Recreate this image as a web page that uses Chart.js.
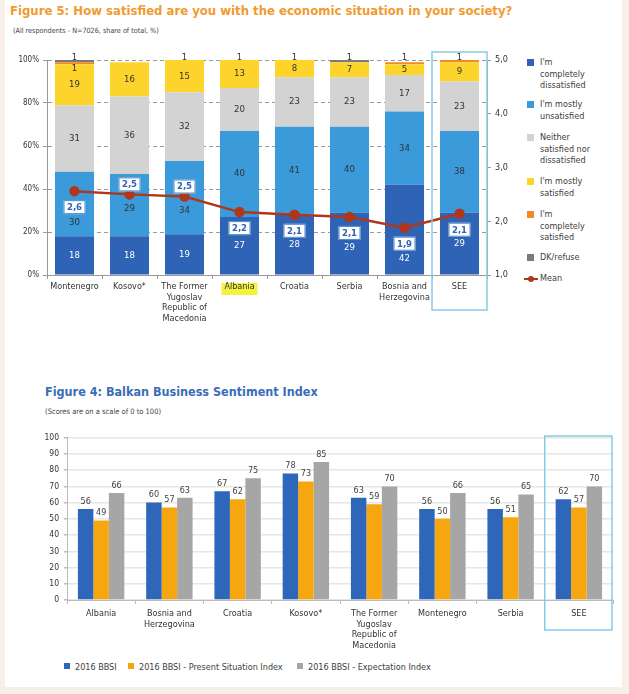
<!DOCTYPE html>
<html>
<head>
<meta charset="utf-8">
<script src="https://cdn.jsdelivr.net/npm/chart.js@4.4.0/dist/chart.umd.min.js"></script>
<style>
  html, body { margin: 0; padding: 0; background: #f9efe6; }
  #panel { position: absolute; left: 5px; top: 0; width: 617px; height: 687px; background: #fff; }
  .txt { position: absolute; font-family: 'DejaVu Sans Condensed', 'DejaVu Sans', sans-serif; white-space: nowrap; }
  canvas { position: absolute; }
  .leg1 { position: absolute; left: 527px; font-family: 'DejaVu Sans Condensed', 'DejaVu Sans', sans-serif; font-size: 9px; line-height: 11.5px; color: #404040; }
  .leg1 .sq { position: absolute; left: 0; top: 2px; width: 7px; height: 7px; }
  .leg1 .lb { position: absolute; left: 13px; top: 0; white-space: nowrap; }
  .leg2 { position: absolute; top: 662px; font-family: 'DejaVu Sans Condensed', 'DejaVu Sans', sans-serif; font-size: 9px; color: #404040; white-space: nowrap; }
  .leg2 .sq { display: inline-block; width: 6px; height: 6px; margin-right: 5px; vertical-align: 1px; }
</style>
</head>
<body>
<div id="panel"></div>
<div class="txt" style="left:10px;top:3px;font-size:13px;font-weight:bold;color:#f29a30;">Figure 5: How satisfied are you with the economic situation in your society?</div>
<div class="txt" style="left:13px;top:26px;font-size:7.2px;color:#444;">(All respondents - N=7026, share of total, %)</div>
<canvas id="grafica-satisfaccion" width="520" height="290" style="left:0;top:45px;width:520px;height:290px;"></canvas>
<div id="leyenda1"></div>

<div class="txt" style="left:45px;top:384px;font-size:12.5px;font-weight:bold;color:#3a6db5;">Figure 4: Balkan Business Sentiment Index</div>
<div class="txt" style="left:45px;top:407px;font-size:7.5px;color:#444;">(Scores are on a scale of 0 to 100)</div>
<canvas id="grafica-bbsi" width="629" height="235" style="left:0;top:425px;width:629px;height:235px;"></canvas>
<div id="leyenda2"></div>

<script>
// ------- datos figura 5 (satisfaccion, % del total)
var paises5 = ['Montenegro', 'Kosovo*', ['The Former', 'Yugoslav', 'Republic of', 'Macedonia'], 'Albania', 'Croatia', 'Serbia', ['Bosnia and', 'Herzegovina'], 'SEE'];
var completamenteInsatisfecho = [18, 18, 19, 27, 28, 29, 42, 29];
var bastanteInsatisfecho = [30, 29, 34, 40, 41, 40, 34, 38];
var niSatisfechoNiInsatisfecho = [31, 36, 32, 20, 23, 23, 17, 23];
var bastanteSatisfecho = [19, 16, 15, 13, 8, 7, 5, 9];
var completamenteSatisfecho = [1, 0, 1, 1, 1, 0, 1, 1];
var noSabe = [1, 0, 0, 0, 0, 1, 0, 0];
var media = [2.56, 2.50, 2.46, 2.17, 2.12, 2.08, 1.88, 2.14];
var ticksPorcentaje = ['0%', '20%', '40%', '60%', '80%', '100%'];
var ticksMedia = ['1,0', '2,0', '3,0', '4,0', '5,0'];

// ------- datos figura 4 (BBSI)
var paises4 = ['Albania', ['Bosnia and', 'Herzegovina'], 'Croatia', 'Kosovo*', ['The Former', 'Yugoslav', 'Republic of', 'Macedonia'], 'Montenegro', 'Serbia', 'SEE'];
var bbsi = [56, 60, 67, 78, 63, 56, 56, 62];
var bbsiSituacionActual = [49, 57, 62, 73, 59, 50, 51, 57];
var bbsiExpectativas = [66, 63, 75, 85, 70, 66, 65, 70];

var fuente = "'DejaVu Sans Condensed', 'DejaVu Sans', sans-serif";
Chart.defaults.font.family = fuente;
Chart.defaults.color = '#404040';
Chart.defaults.animation = false;

// posicion de la caja de la media: arriba o abajo del punto
var posicionMedia = ['below', 'above', 'above', 'below', 'below', 'below', 'below', 'below'];

var series5 = [
    {label: "I'm completely dissatisfied", data: completamenteInsatisfecho, color: '#2f63b6', texto: '#ffffff'},
    {label: "I'm mostly unsatisfied", data: bastanteInsatisfecho, color: '#3a9ada', texto: '#333333'},
    {label: 'Neither satisfied nor dissatisfied', data: niSatisfechoNiInsatisfecho, color: '#d3d3d3', texto: '#333333'},
    {label: "I'm mostly satisfied", data: bastanteSatisfecho, color: '#fdd42c', texto: '#333333'},
    {label: "I'm completely satisfied", data: completamenteSatisfecho, color: '#f08a24', texto: '#333333'},
    {label: 'DK/refuse', data: noSabe, color: '#7a7a7a', texto: '#333333'}
];

function centroCajaMedia(p, k){
    return posicionMedia[k] === 'above' ? p.y - 10 : p.y + 16;
}

// plugin que pinta etiquetas, caja SEE y resaltado de Albania
var pluginFigura5 = {
    id: 'figura5',
    beforeDraw: function(chart){
        var ctx = chart.ctx, x = chart.scales.x;
        var cx = x.getPixelForValue(3);
        ctx.save();
        ctx.fillStyle = '#f4f23c';
        ctx.fillRect(cx - 18, chart.chartArea.bottom + 8, 36, 12);
        ctx.restore();
    },
    afterDatasetsDraw: function(chart){
        var ctx = chart.ctx;
        var metaMedia = chart.getDatasetMeta(0);
        ctx.save();
        ctx.font = '9.5px ' + fuente;
        ctx.textAlign = 'center';
        ctx.textBaseline = 'middle';
        for (var j = 0; j < paises5.length; j++){
            var pequenos = 0;
            var punto = metaMedia.data[j];
            var cajaY = centroCajaMedia(punto, j);
            for (var i = series5.length - 1; i >= 0; i--){
                var v = series5[i].data[j];
                if (!v) continue;
                var el = chart.getDatasetMeta(i + 1).data[j];
                if (v <= 1.5){
                    ctx.fillStyle = '#333';
                    ctx.fillText(String(v), el.x, chart.chartArea.top - 2 + 11 * pequenos);
                    pequenos++;
                } else {
                    var y0 = (el.y + el.base) / 2;
                    // evitar el punto y la caja de la media
                    if (Math.abs(y0 - punto.y) < 12) y0 = punto.y + 14;
                    if (y0 > cajaY - 13 && y0 < cajaY + 13) y0 = cajaY + 15;
                    ctx.fillStyle = series5[i].texto;
                    ctx.fillText(String(v), el.x, y0);
                }
            }
        }
        // cajas de la media
        ctx.font = 'bold 9.5px ' + fuente;
        for (var k = 0; k < media.length; k++){
            var p = metaMedia.data[k];
            var cy = centroCajaMedia(p, k);
            ctx.fillStyle = '#ffffff';
            ctx.fillRect(p.x - 11, cy - 7, 22, 14);
            ctx.strokeStyle = '#4a86c8';
            ctx.lineWidth = 1;
            ctx.strokeRect(p.x - 11 + 0.5, cy - 7 + 0.5, 21, 13);
            ctx.fillStyle = '#2f63b6';
            ctx.fillText(media[k].toFixed(1).replace('.', ','), p.x, cy + 0.5);
        }
        ctx.restore();
    },
    afterDraw: function(chart){
        var ctx = chart.ctx, x = chart.scales.x;
        var w = x.getPixelForValue(1) - x.getPixelForValue(0);
        var cx = x.getPixelForValue(7);
        ctx.save();
        ctx.strokeStyle = '#86cbe6';
        ctx.lineWidth = 1.5;
        ctx.strokeRect(cx - w / 2, 7, w, 258);
        ctx.restore();
    }
};

var datasets5 = [{
    type: 'line',
    label: 'Mean',
    data: media,
    yAxisID: 'y1',
    borderColor: '#b0371c',
    backgroundColor: '#b0371c',
    borderWidth: 2.5,
    pointRadius: 4,
    pointBackgroundColor: '#b0371c',
    order: 0
}];
series5.forEach(function(s){
    datasets5.push({
        label: s.label,
        data: s.data,
        backgroundColor: s.color,
        borderWidth: 0,
        barPercentage: 0.71,
        categoryPercentage: 1,
        yAxisID: 'y',
        order: 1
    });
});

new Chart(document.getElementById('grafica-satisfaccion').getContext('2d'), {
    type: 'bar',
    data: {labels: paises5, datasets: datasets5},
    options: {
        responsive: false,
        layout: {padding: {top: 15, left: 0, right: 0, bottom: 0}},
        plugins: {legend: {display: false}, tooltip: {enabled: false}},
        scales: {
            x: {
                stacked: true,
                grid: {display: true, drawOnChartArea: false, offset: true, color: '#999', tickLength: 4},
                border: {color: '#999'},
                ticks: {font: {size: 9}, color: '#333', padding: 2, maxRotation: 0, autoSkip: false},
                afterFit: function(s){ s.height = 60; }
            },
            y: {
                stacked: true,
                min: 0, max: 100,
                ticks: {stepSize: 20, font: {size: 8}, color: '#333', padding: 4,
                    callback: function(v){ return ticksPorcentaje[v / 20]; }},
                grid: {color: '#9a9a9a', tickLength: 4, drawTicks: true, tickBorderDash: [4, 3]},
                border: {color: '#999', dash: [4, 3]},
                afterFit: function(s){ s.width = 47; }
            },
            y1: {
                position: 'right',
                min: 1, max: 5,
                ticks: {stepSize: 1, font: {size: 9}, color: '#333', padding: 4,
                    callback: function(v){ return ticksMedia[v - 1]; }},
                grid: {drawOnChartArea: false, tickLength: 4, color: '#999'},
                border: {color: '#999'},
                afterFit: function(s){ s.width = 33; }
            }
        }
    },
    plugins: [pluginFigura5]
});

// leyenda figura 5
var leyenda1 = [
    {t: "I'm<br>completely<br>dissatisfied", c: '#2f63b6', y: 57},
    {t: "I'm mostly<br>unsatisfied", c: '#3a9ada', y: 99},
    {t: 'Neither<br>satisfied nor<br>dissatisfied', c: '#d3d3d3', y: 132},
    {t: "I'm mostly<br>satisfied", c: '#fdd42c', y: 176},
    {t: "I'm<br>completely<br>satisfied", c: '#f08a24', y: 209},
    {t: 'DK/refuse', c: '#7a7a7a', y: 252}
];
var html1 = '';
leyenda1.forEach(function(l){
    html1 += '<div class="leg1" style="top:' + l.y + 'px"><div class="sq" style="background:' + l.c + '"></div><div class="lb">' + l.t + '</div></div>';
});
html1 += '<div class="leg1" style="top:273px"><div style="position:absolute;left:-3px;top:5px;width:14px;height:2px;background:#b0371c"></div>' +
    '<div style="position:absolute;left:1px;top:3px;width:6px;height:6px;border-radius:3px;background:#b0371c"></div><div class="lb">Mean</div></div>';
document.getElementById('leyenda1').innerHTML = html1;

// ------- figura 4
var pluginFigura4 = {
    id: 'figura4',
    afterDatasetsDraw: function(chart){
        var ctx = chart.ctx;
        ctx.save();
        ctx.font = '9px ' + fuente;
        ctx.fillStyle = '#404040';
        ctx.textAlign = 'center';
        ctx.textBaseline = 'bottom';
        chart.data.datasets.forEach(function(ds, i){
            chart.getDatasetMeta(i).data.forEach(function(el, j){
                ctx.fillText(String(ds.data[j]), el.x, el.y - 3);
            });
        });
        ctx.restore();
    },
    afterDraw: function(chart){
        var ctx = chart.ctx, x = chart.scales.x;
        var w = x.getPixelForValue(1) - x.getPixelForValue(0);
        var cx = x.getPixelForValue(7);
        ctx.save();
        ctx.strokeStyle = '#86cbe6';
        ctx.lineWidth = 1.5;
        ctx.strokeRect(cx - w / 2, 11, w - 1, 194);
        ctx.restore();
    }
};

new Chart(document.getElementById('grafica-bbsi').getContext('2d'), {
    type: 'bar',
    data: {
        labels: paises4,
        datasets: [
            {label: '2016 BBSI', data: bbsi, backgroundColor: '#2e67ba'},
            {label: '2016 BBSI - Present Situation Index', data: bbsiSituacionActual, backgroundColor: '#f6a70f'},
            {label: '2016 BBSI - Expectation Index', data: bbsiExpectativas, backgroundColor: '#a6a6a6'}
        ]
    },
    options: {
        responsive: false,
        layout: {padding: {top: 12.7, right: 16, left: 0, bottom: 0}},
        datasets: {bar: {barPercentage: 1, categoryPercentage: 0.68, borderWidth: 0}},
        plugins: {legend: {display: false}, tooltip: {enabled: false}},
        scales: {
            x: {
                grid: {display: true, drawOnChartArea: false, offset: true, color: '#bbb', tickLength: 4},
                border: {color: '#bbb'},
                ticks: {font: {size: 9}, color: '#333', padding: 4, maxRotation: 0, autoSkip: false},
                afterFit: function(s){ s.height = 60; }
            },
            y: {
                min: 0, max: 100,
                ticks: {stepSize: 10, font: {size: 8.5}, color: '#333', padding: 5},
                grid: {color: '#e6e6e6', lineWidth: 1.5, tickLength: 3, tickColor: '#bbb'},
                border: {color: '#bbb'},
                afterFit: function(s){ s.width = 67; }
            }
        }
    },
    plugins: [pluginFigura4]
});

// leyenda figura 4
var leyenda2 = [
    {t: '2016 BBSI', c: '#2e67ba', x: 64},
    {t: '2016 BBSI - Present Situation Index', c: '#f6a70f', x: 128},
    {t: '2016 BBSI - Expectation Index', c: '#a6a6a6', x: 297}
];
var html2 = '';
leyenda2.forEach(function(l){
    html2 += '<div class="leg2" style="left:' + l.x + 'px"><span class="sq" style="background:' + l.c + '"></span>' + l.t + '</div>';
});
document.getElementById('leyenda2').innerHTML = html2;
</script>
</body>
</html>
